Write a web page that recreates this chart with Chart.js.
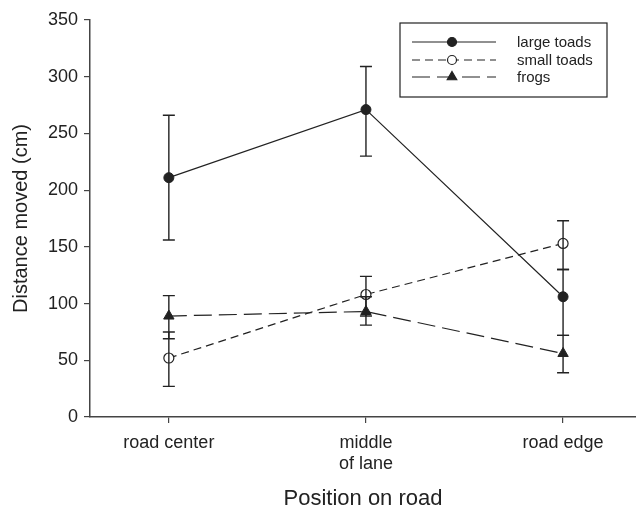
<!DOCTYPE html>
<html>
<head>
<meta charset="utf-8">
<script src="https://cdn.jsdelivr.net/npm/chart.js@4"></script>
<style>
  html, body { margin: 0; padding: 0; background: #fff; }
  #wrap { width: 636px; height: 512px; position: relative; }
</style>
</head>
<body>
<div id="wrap"><canvas id="chart"></canvas></div>
<script>
// --- DATA ---
const categories = ['road center', ['middle', 'of lane'], 'road edge'];
const positions = [0, 1, 2];

const largeToads = [211, 271, 106];
const largeToadsLow = [156, 230, 72];
const largeToadsHigh = [266, 309, 130];

const smallToads = [52, 108, 153];
const smallToadsLow = [27, 89, 130];
const smallToadsHigh = [75, 124, 173];

const frogs = [89, 93, 56];
const frogsLow = [69, 81, 39];
const frogsHigh = [107, 106, 72];

const yTicks = [0, 50, 100, 150, 200, 250, 300, 350];

const INK = '#222';
const AXIS = '#444';
const FONT = '"Liberation Sans", Arial, sans-serif';

function toPoints(values) {
    return values.map((v, i) => ({ x: positions[i], y: v }));
}

// error bars drawn through the chart scales
const errorBars = {
    id: 'errorBars',
    afterDatasetsDraw(chart) {
        const ctx = chart.ctx;
        const xs = chart.scales.x, ys = chart.scales.y;
        ctx.save();
        ctx.strokeStyle = INK;
        ctx.lineWidth = 1.4;
        chart.data.datasets.forEach(ds => {
            ds.low.forEach((lo, i) => {
                const hi = ds.high[i];
                const px = xs.getPixelForValue(positions[i]);
                const y1 = ys.getPixelForValue(lo), y2 = ys.getPixelForValue(hi);
                ctx.beginPath();
                ctx.moveTo(px, y1); ctx.lineTo(px, y2);
                ctx.moveTo(px - 6, y1); ctx.lineTo(px + 6, y1);
                ctx.moveTo(px - 6, y2); ctx.lineTo(px + 6, y2);
                ctx.stroke();
            });
        });
        ctx.restore();
    }
};

// boxed legend with line + marker samples
const boxLegend = {
    id: 'boxLegend',
    afterDraw(chart) {
        const ctx = chart.ctx;
        const box = { x: 400, y: 23, w: 207, h: 74 };
        ctx.save();
        ctx.strokeStyle = INK;
        ctx.lineWidth = 1.2;
        ctx.strokeRect(box.x, box.y, box.w, box.h);
        ctx.font = '15px ' + FONT;
        ctx.textBaseline = 'middle';
        const rows = [42, 60, 77];
        chart.data.datasets.forEach((ds, i) => {
            const y = rows[i];
            ctx.strokeStyle = INK;
            ctx.beginPath();
            ctx.setLineDash(ds.borderDash || []);
            ctx.lineWidth = 1.2;
            ctx.moveTo(412, y); ctx.lineTo(496, y);
            ctx.stroke();
            ctx.setLineDash([]);
            ctx.fillStyle = ds.pointBackgroundColor;
            Chart.helpers.drawPoint(ctx, {
                pointStyle: ds.pointStyle, radius: ds.pointRadius - 0.5, rotation: 0, borderWidth: 1.2
            }, 452, y);
            ctx.fillStyle = INK;
            ctx.fillText(ds.label, 517, y + 1);
        });
        ctx.restore();
    }
};

new Chart(document.getElementById('chart'), {
    type: 'line',
    data: {
        datasets: [
            {
                label: 'large toads', data: toPoints(largeToads), low: largeToadsLow, high: largeToadsHigh,
                borderColor: INK, borderWidth: 1.2, pointStyle: 'circle', pointRadius: 5,
                pointBackgroundColor: INK, pointBorderColor: INK, pointBorderWidth: 1
            },
            {
                label: 'small toads', data: toPoints(smallToads), low: smallToadsLow, high: smallToadsHigh,
                borderColor: INK, borderWidth: 1.2, borderDash: [8, 5], pointStyle: 'circle', pointRadius: 5,
                pointBackgroundColor: '#fff', pointBorderColor: INK, pointBorderWidth: 1.2
            },
            {
                label: 'frogs', data: toPoints(frogs), low: frogsLow, high: frogsHigh,
                borderColor: INK, borderWidth: 1.2, borderDash: [18, 7], pointStyle: 'triangle', pointRadius: 6,
                pointBackgroundColor: INK, pointBorderColor: INK, pointBorderWidth: 1
            }
        ]
    },
    options: {
        responsive: true,
        maintainAspectRatio: false,
        animation: false,
        layout: { autoPadding: false, padding: { top: 20, right: 0, left: 0, bottom: 0 } },
        plugins: { legend: { display: false }, tooltip: { enabled: false } },
        scales: {
            x: {
                type: 'linear', min: -0.4, max: 2.37,
                afterBuildTicks: s => { s.ticks = positions.map(v => ({ value: v })); },
                afterFit: s => { s.height = 95; },
                grid: { drawOnChartArea: false, drawTicks: true, tickLength: 6, color: AXIS, lineWidth: 1.2 },
                border: { display: true, color: AXIS, width: 1.5 },
                ticks: {
                    color: INK, padding: 9, maxRotation: 0, autoSkip: false,
                    font: { family: FONT, size: 18 },
                    callback: v => categories[positions.indexOf(v)]
                },
                title: {
                    display: true, text: 'Position on road', color: INK, padding: 0,
                    font: { family: FONT, size: 22 }
                }
            },
            y: {
                min: 0, max: 350,
                afterBuildTicks: s => { s.ticks = yTicks.map(v => ({ value: v })); },
                afterFit: s => { s.width = 90; },
                grid: { drawOnChartArea: false, drawTicks: true, tickLength: 6, color: AXIS, lineWidth: 1.2 },
                border: { display: true, color: AXIS, width: 1.5 },
                ticks: {
                    color: INK, padding: 6,
                    font: { family: FONT, size: 18 }
                },
                title: {
                    display: true, text: 'Distance moved (cm)', color: INK, padding: 9,
                    font: { family: FONT, size: 20 }
                }
            }
        }
    },
    plugins: [errorBars, boxLegend]
});
</script>
</body>
</html>
